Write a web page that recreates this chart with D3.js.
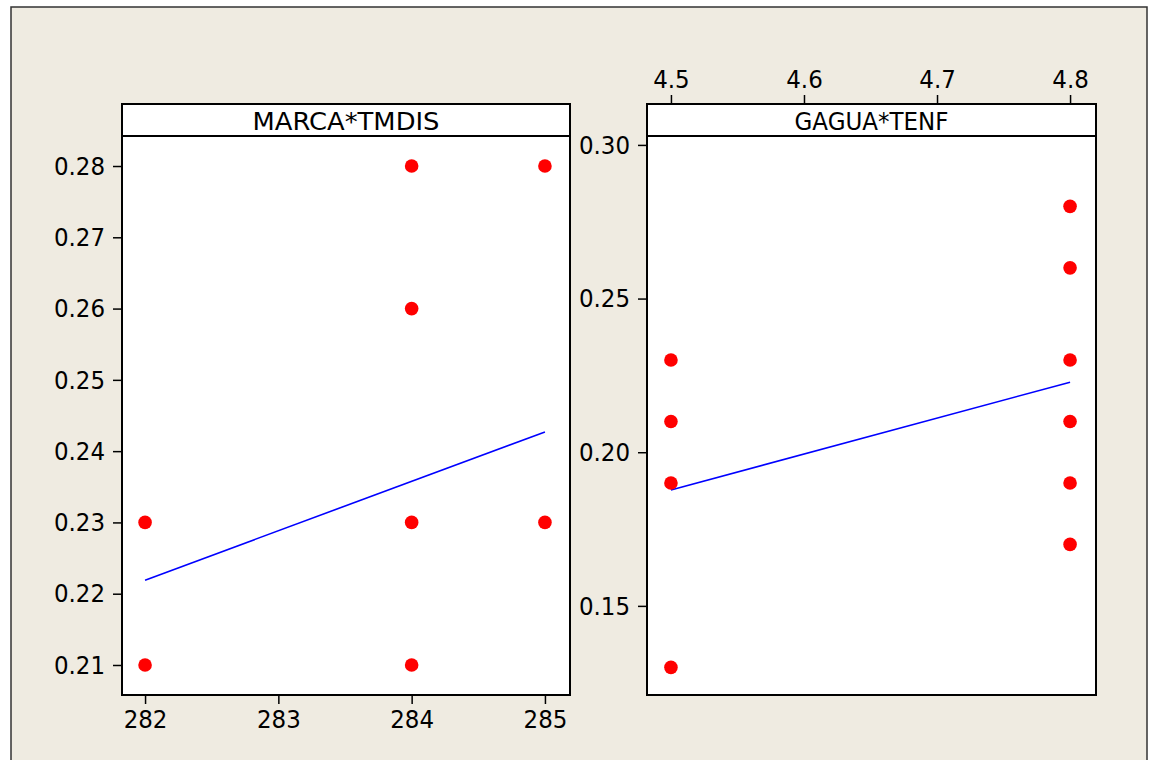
<!DOCTYPE html>
<html>
<head>
<meta charset="utf-8">
<script src="https://cdn.jsdelivr.net/npm/d3@7"></script>
<style>
  body { margin: 0; background: #fff; }
  svg text { font-family: "DejaVu Sans Condensed", "DejaVu Sans", sans-serif; font-stretch: condensed; fill: #000; }
  svg text.title { font-family: "DejaVu Sans", sans-serif; font-stretch: normal; }
</style>
</head>
<body>
<div id="chart"></div>
<script>
// panel 1: MARCA*TMDIS
const marcaX = [282, 282, 284, 284, 284, 284, 285, 285];
const marcaY = [0.23, 0.21, 0.28, 0.26, 0.23, 0.21, 0.28, 0.23];
const marcaFitX = [282, 285];
const marcaFitY = [0.2219, 0.2427];
const marcaXTicks = [282, 283, 284, 285];
const marcaYTicks = [0.21, 0.22, 0.23, 0.24, 0.25, 0.26, 0.27, 0.28];

// panel 2: GAGUA*TENF
const gaguaX = [4.5, 4.5, 4.5, 4.5, 4.8, 4.8, 4.8, 4.8, 4.8, 4.8];
const gaguaY = [0.23, 0.21, 0.19, 0.13, 0.28, 0.26, 0.23, 0.21, 0.19, 0.17];
const gaguaFitX = [4.5, 4.8];
const gaguaFitY = [0.1877, 0.2228];
const gaguaXTicks = [4.5, 4.6, 4.7, 4.8];
const gaguaYTicks = [0.15, 0.20, 0.25, 0.30];

const svg = d3.select("#chart").append("svg")
    .attr("width", 1151)
    .attr("height", 760);

// outer frame
svg.append("rect")
    .attr("x", 11).attr("y", 7)
    .attr("width", 1136).attr("height", 770)
    .attr("fill", "#efebe1")
    .attr("stroke", "#333").attr("stroke-width", 1.5);

const headerTop = 104, plotTop = 136, plotBottom = 695;

function drawPanel(opts) {
    const g = svg.append("g");
    const x = d3.scaleLinear().domain(opts.xDom).range([opts.left, opts.right]);
    const y = d3.scaleLinear().domain(opts.yDom).range([plotBottom, plotTop]);

    // header strip
    g.append("rect")
        .attr("x", opts.left).attr("y", headerTop)
        .attr("width", opts.right - opts.left).attr("height", plotTop - headerTop)
        .attr("fill", "#fff").attr("stroke", "#000").attr("stroke-width", 2);
    g.append("text")
        .attr("class", "title")
        .attr("x", (opts.left + opts.right) / 2)
        .attr("y", plotTop - 6)
        .attr("text-anchor", "middle")
        .style("font-size", "24px")
        .attr("textLength", opts.titleLen)
        .attr("lengthAdjust", "spacingAndGlyphs")
        .text(opts.title);

    // plot area
    g.append("rect")
        .attr("x", opts.left).attr("y", plotTop)
        .attr("width", opts.right - opts.left).attr("height", plotBottom - plotTop)
        .attr("fill", "#fff").attr("stroke", "#000").attr("stroke-width", 2);

    // y axis
    const yAxis = g.append("g")
        .attr("transform", `translate(${opts.left},0)`)
        .call(d3.axisLeft(y).tickValues(opts.yTicks).tickFormat(opts.yFmt).tickSize(9).tickPadding(8));
    yAxis.select(".domain").remove();
    yAxis.selectAll("line").attr("stroke", "#000").attr("stroke-width", 1.5);
    yAxis.selectAll("text").style("font-size", "25.5px").attr("fill", "#000");

    // x axis
    let xAxis;
    if (opts.xTop) {
        xAxis = g.append("g")
            .attr("transform", `translate(0,${headerTop})`)
            .call(d3.axisTop(x).tickValues(opts.xTicks).tickFormat(opts.xFmt).tickSize(9).tickPadding(7));
    } else {
        xAxis = g.append("g")
            .attr("transform", `translate(0,${plotBottom})`)
            .call(d3.axisBottom(x).tickValues(opts.xTicks).tickFormat(opts.xFmt).tickSize(9).tickPadding(6));
    }
    xAxis.select(".domain").remove();
    xAxis.selectAll("line").attr("stroke", "#000").attr("stroke-width", 1.5);
    xAxis.selectAll("text").style("font-size", "25.5px").attr("fill", "#000");

    // fitted line
    const fit = opts.fitX.map((v, i) => [v, opts.fitY[i]]);
    g.append("path")
        .datum(fit)
        .attr("fill", "none")
        .attr("stroke", "#0000ff")
        .attr("stroke-width", 1.6)
        .attr("d", d3.line().x(d => x(d[0])).y(d => y(d[1])));

    // points
    const pts = opts.xs.map((v, i) => ({ x: v, y: opts.ys[i] }));
    g.selectAll(".pt")
        .data(pts)
        .join("circle")
        .attr("class", "pt")
        .attr("cx", d => x(d.x))
        .attr("cy", d => y(d.y))
        .attr("r", 6.8)
        .attr("fill", "#ff0000");
}

drawPanel({
    title: "MARCA*TMDIS",
    titleLen: 187,
    left: 122, right: 570,
    xDom: [281.827, 285.188],
    yDom: [0.20579, 0.28421],
    xs: marcaX, ys: marcaY,
    fitX: marcaFitX, fitY: marcaFitY,
    xTicks: marcaXTicks, yTicks: marcaYTicks,
    xFmt: d3.format("d"), yFmt: d3.format(".2f"),
    xTop: false
});

drawPanel({
    title: "GAGUA*TENF",
    titleLen: 154,
    left: 647, right: 1096,
    xDom: [4.482, 4.8195],
    yDom: [0.1210, 0.3029],
    xs: gaguaX, ys: gaguaY,
    fitX: gaguaFitX, fitY: gaguaFitY,
    xTicks: gaguaXTicks, yTicks: gaguaYTicks,
    xFmt: d3.format(".1f"), yFmt: d3.format(".2f"),
    xTop: true
});
</script>
</body>
</html>
